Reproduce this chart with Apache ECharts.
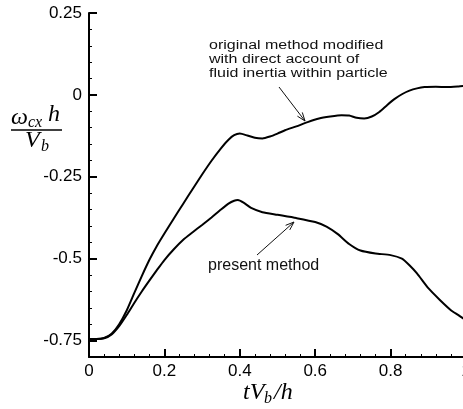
<!DOCTYPE html>
<html><head><meta charset="utf-8">
<script src="https://cdn.jsdelivr.net/npm/echarts@6/dist/echarts.min.js"></script>
<style>html,body{margin:0;padding:0;background:#fff}#c{width:463px;height:409px}</style>
</head><body><div id="c"></div>
<script>
// original method modified with direct account of fluid inertia
const tUpper = [0,0.02,0.04,0.06,0.08,0.10,0.12,0.14,0.16,0.18,0.20,0.225,0.25,0.275,0.30,0.325,0.35,0.37,0.385,0.40,0.42,0.44,0.46,0.48,0.50,0.52,0.55,0.58,0.61,0.64,0.67,0.69,0.71,0.73,0.75,0.77,0.79,0.81,0.83,0.85,0.87,0.89,0.92,0.95,0.98,1.0];
const vUpper = [-0.745,-0.745,-0.742,-0.729,-0.700,-0.658,-0.605,-0.553,-0.504,-0.461,-0.423,-0.377,-0.332,-0.287,-0.243,-0.201,-0.163,-0.137,-0.123,-0.118,-0.124,-0.131,-0.133,-0.127,-0.118,-0.108,-0.096,-0.083,-0.072,-0.066,-0.062,-0.063,-0.070,-0.072,-0.066,-0.052,-0.032,-0.013,0.002,0.013,0.020,0.024,0.025,0.024,0.026,0.028];
// present method
const tLower = [0,0.02,0.04,0.06,0.08,0.10,0.12,0.14,0.16,0.18,0.20,0.225,0.25,0.275,0.30,0.325,0.35,0.37,0.385,0.395,0.41,0.43,0.46,0.50,0.55,0.60,0.63,0.66,0.69,0.72,0.76,0.80,0.83,0.85,0.87,0.90,0.93,0.96,0.98,1.0];
const vLower = [-0.745,-0.745,-0.743,-0.731,-0.706,-0.672,-0.635,-0.600,-0.567,-0.535,-0.504,-0.471,-0.442,-0.419,-0.397,-0.374,-0.350,-0.332,-0.323,-0.321,-0.329,-0.345,-0.358,-0.366,-0.376,-0.388,-0.402,-0.425,-0.455,-0.475,-0.484,-0.489,-0.500,-0.520,-0.545,-0.590,-0.625,-0.657,-0.672,-0.688];
const yTickValues = [-0.75,-0.5,-0.25,0,0.25];
const xTickInterval = 0.2;

const chart = echarts.init(document.getElementById('c'), null, {renderer:'canvas'});
const font = "'Liberation Sans', Arial, Helvetica, sans-serif";
const serif = "'Liberation Serif', 'Times New Roman', serif";
function zip(a,b){return a.map((x,i)=>[x,b[i]]);}

function arrow(x1,y1,x2,y2,len){
  const dx=x2-x1, dy=y2-y1, L=Math.hypot(dx,dy), ux=dx/L, uy=dy/L;
  const c=Math.cos(20*Math.PI/180), s=Math.sin(20*Math.PI/180);
  const a=[ux*c-uy*s, ux*s+uy*c], b=[ux*c+uy*s, -ux*s+uy*c];
  return [
    {type:'line', shape:{x1,y1,x2,y2}, style:{stroke:'#111', lineWidth:1}},
    {type:'polyline', shape:{points:[[x2-len*a[0],y2-len*a[1]],[x2,y2],[x2-len*b[0],y2-len*b[1]]]}, style:{stroke:'#111', fill:null, lineWidth:1}}
  ];
}

const graphic = [
  {type:'text', x:209, y:45, scaleY:0.83, style:{text:'original method modified', font:'16px '+font, fill:'#111', verticalAlign:'middle'}},
  {type:'text', x:209, y:59, scaleY:0.83, style:{text:'with direct account of', font:'16px '+font, fill:'#111', verticalAlign:'middle'}},
  {type:'text', x:209, y:73, scaleY:0.83, style:{text:'fluid inertia within particle', font:'16px '+font, fill:'#111', verticalAlign:'middle'}},
  {type:'text', x:208, y:266, style:{text:'present method', font:'16px '+font, fill:'#111', verticalAlign:'middle'}},
  ...arrow(279,87,305,121,9),
  ...arrow(257,255,294,222,9),
  // y axis name as fraction
  {type:'text', x:11, y:118, style:{text:'ω', font:'italic 24px '+serif, fill:'#000', verticalAlign:'middle'}},
  {type:'text', x:28, y:123, style:{text:'cx', font:'italic 16px '+serif, fill:'#000', verticalAlign:'middle'}},
  {type:'text', x:48, y:115, style:{text:'h', font:'italic 24px '+serif, fill:'#000', verticalAlign:'middle'}},
  {type:'line', shape:{x1:11,y1:130,x2:62,y2:130}, style:{stroke:'#000', lineWidth:1.5}},
  {type:'text', x:25, y:141, style:{text:'V', font:'italic 24px '+serif, fill:'#000', verticalAlign:'middle'}},
  {type:'text', x:41, y:147, style:{text:'b', font:'italic 16px '+serif, fill:'#000', verticalAlign:'middle'}},
  // x axis name
  {type:'text', x:243, y:393, style:{text:'tV', font:'italic 24px '+serif, fill:'#000', verticalAlign:'middle'}},
  {type:'text', x:264, y:399, style:{text:'b', font:'italic 16px '+serif, fill:'#000', verticalAlign:'middle'}},
  {type:'text', x:274, y:393, style:{text:'/h', font:'italic 24px '+serif, fill:'#000', verticalAlign:'middle'}}
];

const axisLine = {show:true, onZero:false, lineStyle:{color:'#000', width:2}};
chart.setOption({
  animation:false,
  backgroundColor:'#fff',
  grid:{left:89, right:-3, top:13, bottom:52, containLabel:false, outerBoundsMode:'none'},
  xAxis:{type:'value', min:0, max:1, interval:xTickInterval,
    axisLine, splitLine:{show:false},
    axisTick:{show:true, inside:true, length:8, lineStyle:{color:'#000', width:2}},
    minorTick:{show:true, splitNumber:5, length:3, lineStyle:{color:'#000', width:1}},
    axisLabel:{color:'#000', fontSize:17, fontFamily:font, margin:6, showMaxLabel:true}
  },
  yAxis:[
    {type:'value', min:-0.8, max:0.25, position:'left',
      axisLine, splitLine:{show:false},
      axisTick:{show:true, inside:true, length:8, customValues:yTickValues, lineStyle:{color:'#000', width:2}},
      axisLabel:{color:'#000', fontSize:17, fontFamily:font, margin:7, customValues:yTickValues}
    },
    {type:'value', min:-0.8, max:0.25, interval:0.05, position:'left',
      axisLine:{show:false, onZero:false}, splitLine:{show:false}, axisLabel:{show:false},
      axisTick:{show:true, inside:true, length:3, lineStyle:{color:'#000', width:1}}
    }
  ],
  series:[
    {type:'line', name:'original method modified', data:zip(tUpper,vUpper), showSymbol:false, smooth:0.2,
      lineStyle:{color:'#000', width:2}, z:3},
    {type:'line', name:'present method', data:zip(tLower,vLower), showSymbol:false, smooth:0.2,
      lineStyle:{color:'#000', width:2}, z:3}
  ],
  graphic
});
</script>
</body></html>
